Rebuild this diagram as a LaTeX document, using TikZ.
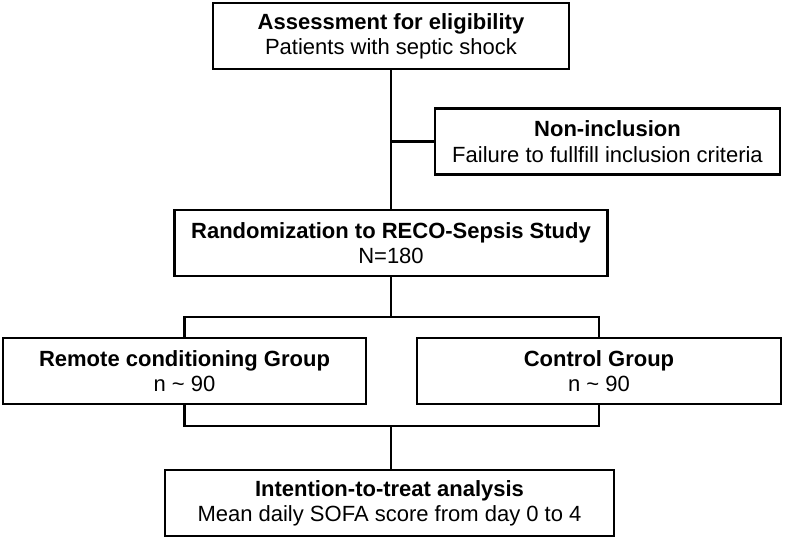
\documentclass[tikz,border=0pt]{standalone}
\usepackage{fontspec}
\setmainfont{Liberation Sans}
\begin{document}
\begin{tikzpicture}[x=0.75pt, y=-0.75pt, font=\fontsize{16.5}{19}\selectfont,
  box/.style={draw, line width=2pt, align=center, inner sep=0pt, minimum height=49.5pt},
  link/.style={line width=2pt}]
  \useasboundingbox (0,0) rectangle (787,540);
  % boxes: name / x / y / width / title / detail
  \foreach \name/\x/\y/\w/\title/\sub in {
    assess/391/36/267pt/{Assessment for eligibility}/{Patients with septic shock},
    nonincl/607.5/141.5/258.75pt/{Non-inclusion}/{Failure to fullfill inclusion criteria},
    random/391/243/324.75pt/{Randomization to RECO-Sepsis Study}/{N=180},
    remote/184.5/371/272.25pt/{Remote conditioning Group}/{n \textasciitilde{} 90},
    control/599/371/273pt/{Control Group}/{n \textasciitilde{} 90},
    itt/389.5/503/336.75pt/{Intention-to-treat analysis}/{Mean daily SOFA score from day 0 to 4}} {
    \node[box, minimum width=\w] (\name) at (\x,\y) {\textbf{\title}\\\sub};
  }
  % connectors
  \coordinate (split) at (391,317);
  \coordinate (merge) at (391,426);
  \draw[link] (assess) -- (random);
  \draw[link] (nonincl.west) -- (nonincl.west -| assess.south);
  \draw[link] (random) -- (split);
  \draw[link] (remote.north) |- (split) -| (control.north);
  \draw[link] (remote.south) |- (merge) -| (control.south);
  \draw[link] (merge) -- (merge |- itt.north);
\end{tikzpicture}
\end{document}
